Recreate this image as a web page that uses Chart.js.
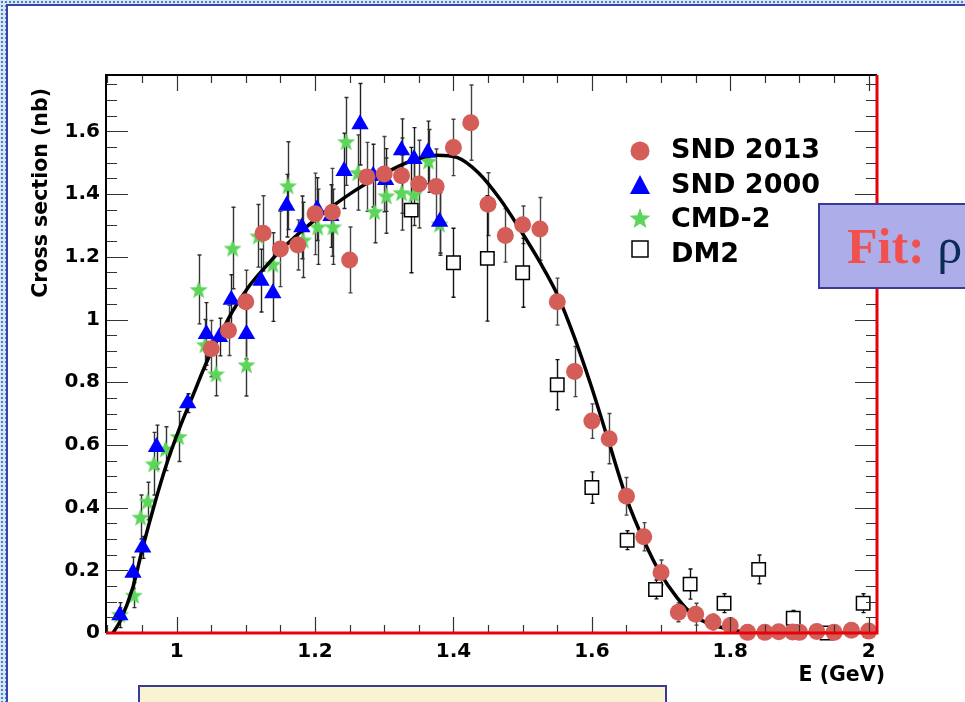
<!DOCTYPE html>
<html>
<head>
<meta charset="utf-8">
<title>Cross section vs E</title>
<script src="https://cdn.jsdelivr.net/npm/chart.js@4.4.0/dist/chart.umd.min.js"></script>
<style>
  html, body { margin: 0; padding: 0; }
  body {
    width: 965px; height: 702px; overflow: hidden; position: relative;
    background-color: #d2e9f8;
    background-image: radial-gradient(circle, #5b7cbc 0.9px, transparent 1.3px);
    background-size: 4px 4px;
  }
  #slide {
    position: absolute; left: 6px; top: 4px; right: 0; bottom: 0;
    background: #fff;
    border-left: 2px solid #3a43a6; border-top: 2px solid #3a43a6;
  }
  #chart-wrap { position: absolute; left: 0; top: 0; width: 965px; height: 702px; }
  #fit-box {
    position: absolute; left: 818px; top: 203px; width: 200px; height: 82px;
    background: #adade9; border: 2px solid #3a3a9c;
    font-family: "Liberation Serif", "Times New Roman", serif; font-size: 50px;
    line-height: 82px; white-space: nowrap; padding-left: 27px; box-sizing: content-box;
  }
  #fit-box b { color: #f24f4f; }
  #fit-box span { color: #0b2a55; }
  #note-box {
    position: absolute; left: 138px; top: 685px; width: 525px; height: 40px;
    background: #f8f4d2; border: 2px solid #3a3a9c;
  }
</style>
</head>
<body>
<div id="slide"></div>
<div id="chart-wrap"><canvas id="xsec-chart" width="965" height="702"></canvas></div>
<div id="fit-box"><b>Fit:</b> <span>ρ</span></div>
<div id="note-box"></div>
<script>
// SND 2013
const snd2013E = [1.05, 1.075, 1.10, 1.125, 1.15, 1.175, 1.20, 1.225, 1.25, 1.275, 1.30, 1.325, 1.35, 1.375, 1.40, 1.425,
  1.45, 1.475, 1.50, 1.525, 1.55, 1.575, 1.60, 1.625, 1.65, 1.675, 1.70, 1.725, 1.75, 1.775, 1.80, 1.825,
  1.85, 1.87, 1.89, 1.90, 1.925, 1.95, 1.975, 2.0];
const snd2013Xs = [0.907, 0.965, 1.057, 1.275, 1.225, 1.238, 1.337, 1.342, 1.19, 1.455, 1.464, 1.459, 1.432, 1.424, 1.549, 1.628,
  1.368, 1.268, 1.302, 1.289, 1.057, 0.834, 0.676, 0.62, 0.436, 0.307, 0.193, 0.066, 0.06, 0.035, 0.024, 0.002,
  0.002, 0.004, 0.003, 0.002, 0.005, 0.002, 0.009, 0.006];
const snd2013Err = [0.09, 0.08, 0.1, 0.12, 0.12, 0.08, 0.13, 0.14, 0.105, 0.11, 0.12, 0.12, 0.14, 0.12, 0.09, 0.12,
  0.1, 0.085, 0.06, 0.1, 0.075, 0.08, 0.055, 0.08, 0.06, 0.045, 0.04, 0.03, 0.035, 0.025, 0.025, 0.015,
  0.02, 0.02, 0.02, 0.015, 0.015, 0.01, 0.015, 0.01];

// SND 2000
const snd2000E = [0.918, 0.937, 0.951, 0.971, 1.016, 1.043, 1.062, 1.079, 1.101, 1.122, 1.139, 1.159, 1.181, 1.203,
  1.223, 1.242, 1.265, 1.284, 1.302, 1.325, 1.343, 1.363, 1.380];
const snd2000Xs = [0.057, 0.192, 0.273, 0.593, 0.733, 0.954, 0.944, 1.063, 0.954, 1.124, 1.084, 1.363, 1.294, 1.352,
  1.33, 1.474, 1.623, 1.459, 1.445, 1.54, 1.512, 1.533, 1.312];
const snd2000Err = [0.04, 0.05, 0.035, 0.07, 0.03, 0.1, 0.06, 0.08, 0.08, 0.1, 0.09, 0.1, 0.1, 0.1,
  0.1, 0.12, 0.13, 0.1, 0.1, 0.1, 0.1, 0.1, 0.1];

// CMD-2
const cmd2E = [0.918, 0.938, 0.948, 0.958, 0.967, 0.984, 1.003, 1.032, 1.041, 1.057, 1.081, 1.101, 1.118, 1.139,
  1.161, 1.183, 1.204, 1.226, 1.245, 1.262, 1.286, 1.303, 1.325, 1.343, 1.364, 1.380];
const cmd2Xs = [0.06, 0.121, 0.37, 0.421, 0.54, 0.588, 0.627, 1.096, 0.92, 0.827, 1.228, 0.856, 1.267, 1.177,
  1.427, 1.254, 1.296, 1.296, 1.568, 1.469, 1.345, 1.395, 1.405, 1.40, 1.506, 1.305];
const cmd2Err = [0.02, 0.04, 0.07, 0.06, 0.1, 0.07, 0.08, 0.11, 0.08, 0.07, 0.13, 0.1, 0.1, 0.1,
  0.14, 0.12, 0.12, 0.12, 0.14, 0.12, 0.1, 0.12, 0.12, 0.1, 0.1, 0.1];

// DM2
const dm2E = [1.339, 1.40, 1.449, 1.50, 1.55, 1.60, 1.651, 1.692, 1.742, 1.791, 1.841, 1.891, 1.94, 1.992];
const dm2Xs = [1.349, 1.181, 1.195, 1.149, 0.792, 0.464, 0.296, 0.139, 0.156, 0.095, 0.203, 0.047, 0.0, 0.095];
const dm2Err = [0.2, 0.11, 0.2, 0.11, 0.08, 0.05, 0.03, 0.03, 0.048, 0.03, 0.046, 0.025, 0.02, 0.03];

// Fit curve
const fitE = [0.908, 0.918, 0.937, 0.951, 0.968, 0.985, 1.004, 1.024, 1.043, 1.062, 1.081, 1.106, 1.13, 1.157,
  1.20, 1.25, 1.299, 1.337, 1.376, 1.405, 1.436, 1.467, 1.496, 1.525, 1.55, 1.574, 1.598, 1.623, 1.651,
  1.675, 1.699, 1.723, 1.747, 1.771, 1.796, 1.82, 1.85, 2.0];
const fitXs = [0, 0.036, 0.147, 0.272, 0.41, 0.535, 0.652, 0.76, 0.862, 0.948, 1.027, 1.11, 1.172, 1.235,
  1.318, 1.40, 1.464, 1.504, 1.524, 1.517, 1.468, 1.385, 1.288, 1.183, 1.08, 0.948, 0.795, 0.62, 0.424,
  0.296, 0.19, 0.113, 0.056, 0.028, 0.013, 0.004, 0, 0];

const xTickValues = [1, 1.2, 1.4, 1.6, 1.8, 2];
const xTickLabels = ['1', '1.2', '1.4', '1.6', '1.8', '2'];
const yTickValues = [0, 0.2, 0.4, 0.6, 0.8, 1, 1.2, 1.4, 1.6];
const yTickLabels = ['0', '0.2', '0.4', '0.6', '0.8', '1', '1.2', '1.4', '1.6'];

const legendNames = ['SND 2013', 'SND 2000', 'CMD-2', 'DM2'];

const toPoints = (xs, ys) => xs.map((x, i) => ({ x: x, y: ys[i] }));

function makeStar(size, color) {
    const c = document.createElement('canvas');
    c.width = size; c.height = size;
    const g = c.getContext('2d');
    const R = size / 2, r = R * 0.42, cx = size / 2, cy = size / 2 + R * 0.1;
    g.beginPath();
    for (let i = 0; i < 10; i++) {
        const a = -Math.PI / 2 + i * Math.PI / 5;
        const rad = i % 2 ? r : R;
        g.lineTo(cx + rad * Math.cos(a), cy + rad * Math.sin(a));
    }
    g.closePath();
    g.fillStyle = color;
    g.fill();
    return c;
}

const starColor = '#5cd65a';
const starPoint = makeStar(19, starColor);
const starLegend = makeStar(22, starColor);
const boldFont = '"DejaVu Sans", sans-serif';

// error bars, frame, inner ticks, legend and axis titles in ROOT style
const rootStyle = {
    id: 'rootStyle',
    beforeDatasetsDraw(chart) {
        const { ctx, scales: { x, y } } = chart;
        ctx.save();
        chart.data.datasets.forEach(ds => {
            if (!ds.errors) return;
            ctx.strokeStyle = ds.errColor;
            ctx.lineWidth = 1.4;
            ctx.beginPath();
            ds.data.forEach((p, i) => {
                const px = Math.round(x.getPixelForValue(p.x)) + 0.5;
                const top = y.getPixelForValue(Math.min(p.y + ds.errors[i], 1.78));
                const bot = y.getPixelForValue(Math.max(p.y - ds.errors[i], 0));
                ctx.moveTo(px, top); ctx.lineTo(px, bot);
                ctx.moveTo(px - 2, top); ctx.lineTo(px + 2, top);
                ctx.moveTo(px - 2, bot); ctx.lineTo(px + 2, bot);
            });
            ctx.stroke();
        });
        ctx.restore();
    },
    afterDatasetsDraw(chart) {
        const { ctx, chartArea: a, scales: { x, y } } = chart;
        ctx.save();
        ctx.strokeStyle = '#333';
        ctx.lineWidth = 1.2;
        ctx.beginPath();
        for (let k = 18; k <= 40; k++) {
            const v = k * 0.05;
            const px = Math.round(x.getPixelForValue(v)) + 0.5;
            const len = k % 4 === 0 ? 16 : 8;
            ctx.moveTo(px, a.bottom); ctx.lineTo(px, a.bottom - len);
            ctx.moveTo(px, a.top); ctx.lineTo(px, a.top + len);
        }
        for (let k = 0; k <= 35; k++) {
            const v = k * 0.05;
            const py = Math.round(y.getPixelForValue(v)) + 0.5;
            const len = k % 4 === 0 ? 22 : 11;
            ctx.moveTo(a.left, py); ctx.lineTo(a.left + len, py);
            ctx.moveTo(a.right, py); ctx.lineTo(a.right - len, py);
        }
        ctx.stroke();
        // frame
        ctx.strokeStyle = '#000';
        ctx.lineWidth = 2;
        ctx.beginPath();
        ctx.moveTo(a.left, a.bottom); ctx.lineTo(a.left, a.top); ctx.lineTo(a.right, a.top);
        ctx.stroke();
        ctx.strokeStyle = '#e8000b';
        ctx.lineWidth = 3;
        ctx.beginPath();
        ctx.moveTo(a.left, a.bottom); ctx.lineTo(a.right, a.bottom); ctx.lineTo(a.right, a.top);
        ctx.stroke();
        ctx.restore();
    },
    afterDraw(chart) {
        const { ctx } = chart;
        ctx.save();
        // legend
        const mx = 640;
        const markerY = [151, 185, 218, 249];
        const textY = [158, 193, 227, 262];
        ctx.fillStyle = '#d45d58';
        ctx.beginPath(); ctx.arc(mx, markerY[0], 9.5, 0, Math.PI * 2); ctx.fill();
        ctx.fillStyle = '#0000ff';
        ctx.beginPath();
        ctx.moveTo(mx, markerY[1] - 10); ctx.lineTo(mx + 10, markerY[1] + 9); ctx.lineTo(mx - 10, markerY[1] + 9);
        ctx.closePath(); ctx.fill();
        ctx.drawImage(starLegend, mx - 11, markerY[2] - 11);
        ctx.fillStyle = '#fff';
        ctx.strokeStyle = '#000';
        ctx.lineWidth = 1.5;
        ctx.fillRect(mx - 8, markerY[3] - 8, 16, 16);
        ctx.strokeRect(mx - 8, markerY[3] - 8, 16, 16);
        ctx.fillStyle = '#000';
        ctx.font = 'bold 27px ' + boldFont;
        ctx.textBaseline = 'alphabetic';
        ctx.textAlign = 'left';
        legendNames.forEach((name, i) => ctx.fillText(name, 671, textY[i]));
        // axis titles
        ctx.font = 'bold 20.5px ' + boldFont;
        ctx.textAlign = 'right';
        ctx.textBaseline = 'middle';
        ctx.fillText('E (GeV)', 885, 676);
        ctx.translate(42, 88);
        ctx.rotate(-Math.PI / 2);
        ctx.fillText('Cross section (nb)', 0, 0);
        ctx.restore();
    }
};

const ctx = document.getElementById('xsec-chart').getContext('2d');
new Chart(ctx, {
    type: 'scatter',
    data: {
        datasets: [
            {
                label: 'SND 2013',
                data: toPoints(snd2013E, snd2013Xs),
                errors: snd2013Err,
                errColor: '#444',
                pointStyle: 'circle',
                pointRadius: 8.5,
                pointBackgroundColor: '#d45d58',
                pointBorderWidth: 0,
                order: 0,
                clip: false
            },
            {
                label: 'SND 2000',
                data: toPoints(snd2000E, snd2000Xs),
                errors: snd2000Err,
                errColor: '#222',
                pointStyle: 'triangle',
                pointRadius: 10,
                pointBackgroundColor: '#0000ff',
                pointBorderWidth: 0,
                order: 1,
                clip: false
            },
            {
                label: 'Fit',
                data: toPoints(fitE, fitXs),
                showLine: true,
                borderColor: '#000',
                borderWidth: 3.5,
                cubicInterpolationMode: 'monotone',
                pointRadius: 0,
                order: 2
            },
            {
                label: 'CMD-2',
                data: toPoints(cmd2E, cmd2Xs),
                errors: cmd2Err,
                errColor: '#333',
                pointStyle: starPoint,
                pointRadius: 9,
                order: 3,
                clip: false
            },
            {
                label: 'DM2',
                data: toPoints(dm2E, dm2Xs),
                errors: dm2Err,
                errColor: '#111',
                pointStyle: 'rect',
                pointRadius: 9.5,
                pointBackgroundColor: '#fff',
                pointBorderColor: '#000',
                pointBorderWidth: 1.5,
                order: 4,
                clip: false
            }
        ]
    },
    options: {
        responsive: false,
        animation: false,
        devicePixelRatio: 1,
        layout: { padding: { left: 0, top: 75, right: 88, bottom: 0 } },
        plugins: {
            legend: { display: false },
            tooltip: { enabled: false }
        },
        scales: {
            x: {
                type: 'linear',
                min: 0.898,
                max: 2.012,
                grid: { display: false, drawTicks: false },
                border: { display: false },
                afterBuildTicks: scale => { scale.ticks = xTickValues.map(v => ({ value: v })); },
                afterFit: scale => { scale.height = 69; },
                ticks: {
                    autoSkip: false,
                    maxRotation: 0,
                    padding: 7,
                    color: '#000',
                    font: { family: boldFont, size: 20, weight: 'bold' },
                    callback: (value, index) => xTickLabels[index]
                }
            },
            y: {
                type: 'linear',
                min: 0,
                max: 1.78,
                grid: { display: false, drawTicks: false },
                border: { display: false },
                afterBuildTicks: scale => { scale.ticks = yTickValues.map(v => ({ value: v })); },
                afterFit: scale => { scale.width = 106; },
                ticks: {
                    autoSkip: false,
                    padding: 6,
                    color: '#000',
                    font: { family: boldFont, size: 20, weight: 'bold' },
                    callback: (value, index) => yTickLabels[index]
                }
            }
        }
    },
    plugins: [rootStyle]
});
</script>
</body>
</html>
